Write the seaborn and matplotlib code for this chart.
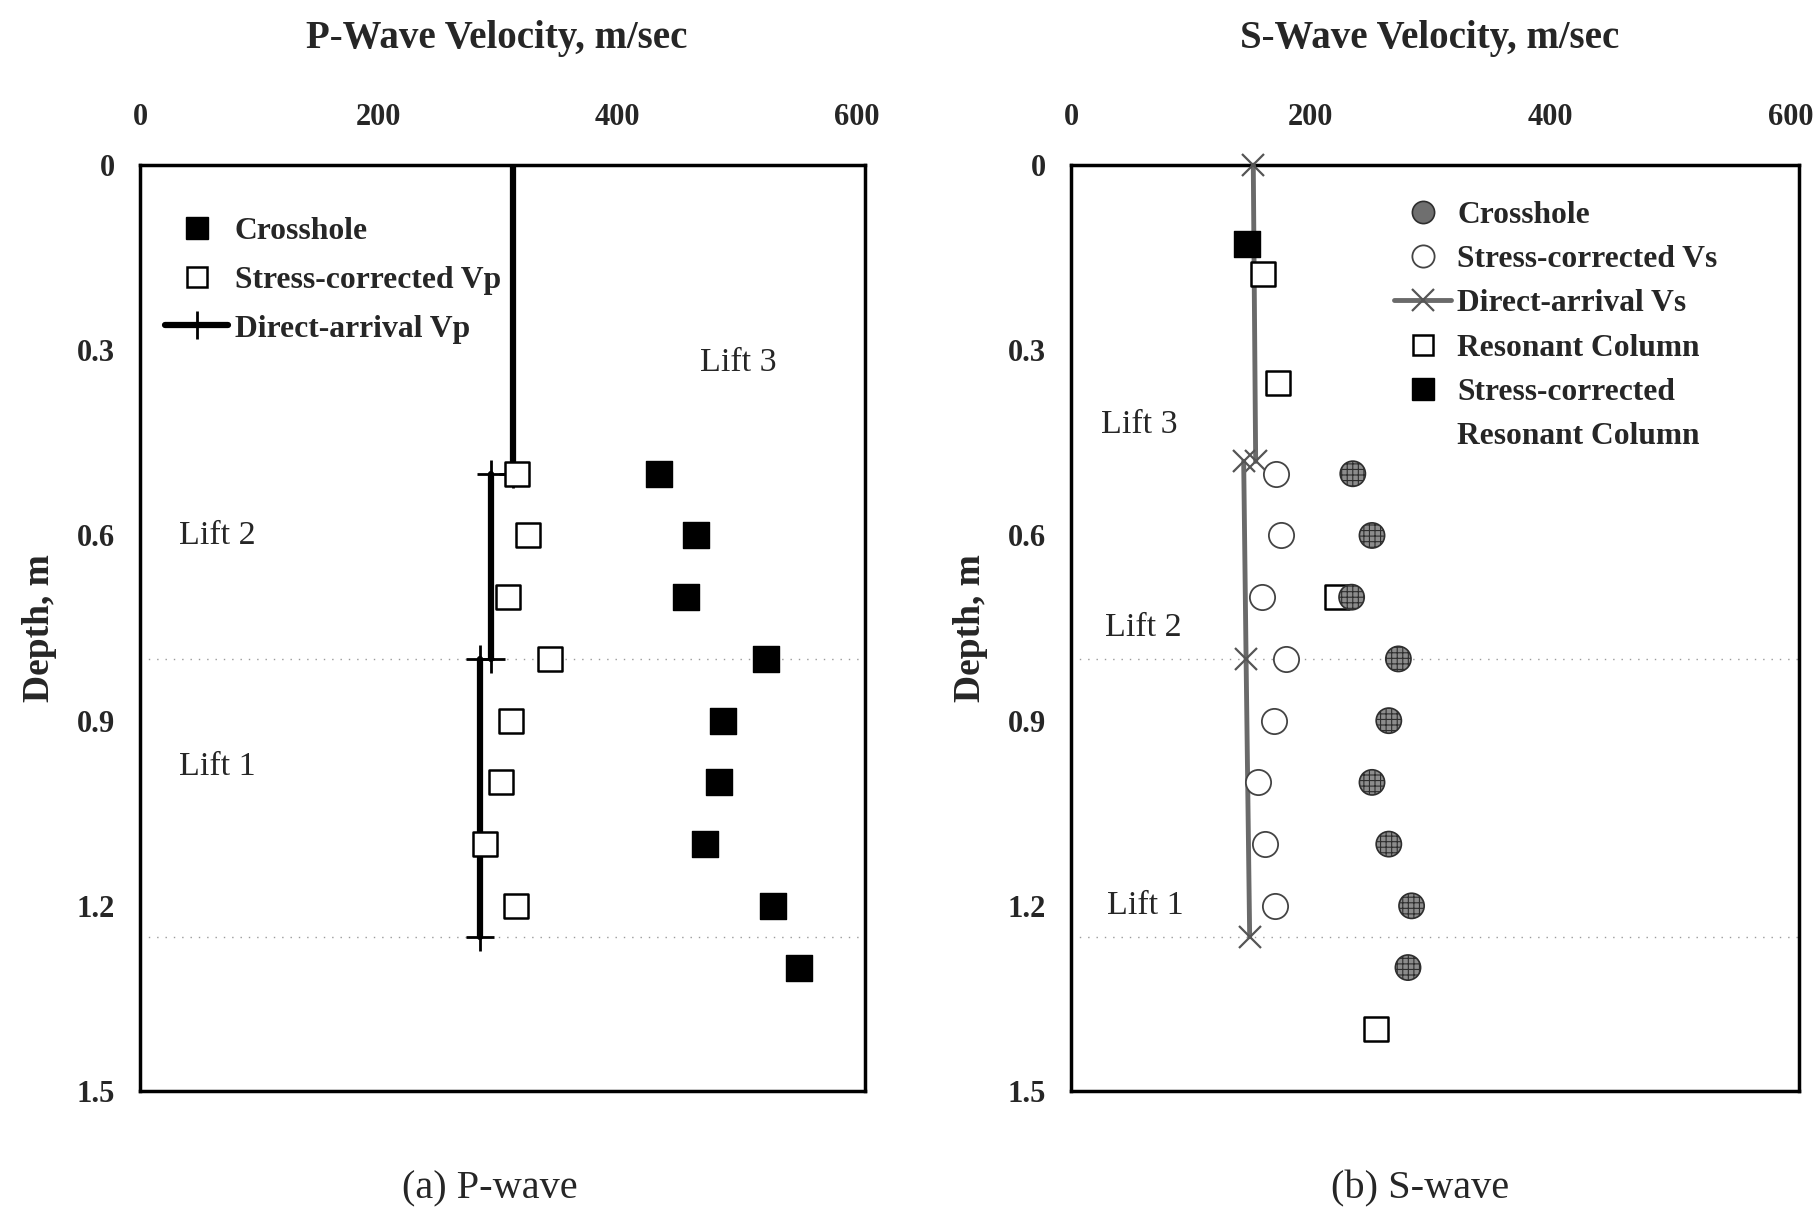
import numpy as np
import pandas as pd
import matplotlib
matplotlib.use("Agg")
import matplotlib.pyplot as plt
from matplotlib.lines import Line2D
import seaborn as sns

# ---------------- data ----------------
# P-wave panel
p_cross_depth = [0.5, 0.6, 0.7, 0.8, 0.9, 1.0, 1.1, 1.2, 1.3]
p_cross_vel = [435, 466, 457, 524, 488, 485, 473, 530, 552]
p_stress_depth = [0.5, 0.6, 0.7, 0.8, 0.9, 1.0, 1.1, 1.2]
p_stress_vel = [316, 325, 308, 343, 311, 302, 289, 315]
p_direct_seg1_depth = [0.0, 0.5]
p_direct_seg1_vel = [312, 312]
p_direct_seg2_depth = [0.5, 0.8]
p_direct_seg2_vel = [294, 294]
p_direct_seg3_depth = [0.8, 1.25]
p_direct_seg3_vel = [285, 285]

# S-wave panel
s_cross_depth = [0.5, 0.6, 0.7, 0.8, 0.9, 1.0, 1.1, 1.2, 1.3]
s_cross_vel = [235, 251, 234, 273, 265, 251, 265, 284, 281]
s_stress_depth = [0.5, 0.6, 0.7, 0.8, 0.9, 1.0, 1.1, 1.2]
s_stress_vel = [171, 175, 159, 179, 169, 156, 162, 170]
s_direct_seg1_depth = [0.0, 0.48]
s_direct_seg1_vel = [152, 154]
s_direct_seg2_depth = [0.48, 0.8, 1.25]
s_direct_seg2_vel = [144, 146, 149]
s_rc_depth = [0.177, 0.353, 0.7, 1.4]
s_rc_vel = [160, 173, 222, 254]
s_src_depth = [0.128]
s_src_vel = [147]

x_ticks = [0, 200, 400, 600]
y_ticks = [0, 0.3, 0.6, 0.9, 1.2, 1.5]
y_ticklabels = ["0", "0.3", "0.6", "0.9", "1.2", "1.5"]
lift_boundaries = [0.8, 1.25]

p_lift_labels = ["Lift 3", "Lift 2", "Lift 1"]
p_lift_x = [469, 33, 33]
p_lift_y = [0.32, 0.60, 0.975]
s_lift_labels = ["Lift 3", "Lift 2", "Lift 1"]
s_lift_x = [25, 28, 30]
s_lift_y = [0.42, 0.75, 1.2]

# ---------------- style ----------------
sns.set_theme(style="white")
plt.rcParams["font.family"] = ["Liberation Serif", "DejaVu Serif"]
plt.rcParams["axes.linewidth"] = 2.5
plt.rcParams["hatch.linewidth"] = 0.8

fig = plt.figure(figsize=(18.14, 12.14), dpi=100)
axL = fig.add_axes([0.0772, 0.1013, 0.3995, 0.7627])
axR = fig.add_axes([0.5904, 0.1013, 0.4013, 0.7627])

def style_axes(ax):
    ax.set_xlim(0, 607)
    ax.set_ylim(1.5, 0)
    ax.xaxis.tick_top()
    ax.set_xticks(x_ticks)
    ax.set_xticklabels([str(t) for t in x_ticks], fontsize=22, fontweight="bold")
    ax.set_yticks(y_ticks)
    ax.set_yticklabels(y_ticklabels, fontsize=22, fontweight="bold")
    ax.tick_params(axis="x", length=0, pad=24)
    ax.tick_params(axis="y", length=0, pad=18)
    ax.set_xlabel("")
    ax.set_ylabel("Depth, m", fontsize=27, fontweight="bold", labelpad=14)
    for s in ax.spines.values():
        s.set_color("black")
        s.set_linewidth(2.5)
    for yb in lift_boundaries:
        ax.axhline(yb, color="#9a9a9a", lw=1.0, ls=(0, (1, 5)), zorder=0)

# ---------------- P-wave panel ----------------
ax = axL
for dv, dd in [(p_direct_seg1_vel, p_direct_seg1_depth),
               (p_direct_seg2_vel, p_direct_seg2_depth),
               (p_direct_seg3_vel, p_direct_seg3_depth)]:
    sns.lineplot(x=dv, y=dd, sort=False, estimator=None, ax=ax, color="black",
                 lw=4.5, marker="+", markersize=20, mew=2, mec="black",
                 clip_on=True, zorder=3)
sns.scatterplot(x=p_stress_vel, y=p_stress_depth, ax=ax, marker="s", s=300,
                facecolor="white", edgecolor="black", linewidth=1.8, zorder=4)
sns.scatterplot(x=p_cross_vel, y=p_cross_depth, ax=ax, marker="s", s=330,
                color="black", edgecolor="black", linewidth=1, zorder=4)
style_axes(ax)
for t, x, y in zip(p_lift_labels, p_lift_x, p_lift_y):
    ax.text(x, y, t, fontsize=24.5, ha="left", va="center")

hL = [Line2D([], [], ls="none", marker="s", ms=16, mfc="black", mec="black"),
      Line2D([], [], ls="none", marker="s", ms=15, mfc="white", mec="black", mew=1.8),
      Line2D([], [], color="black", lw=4.5, marker="+", ms=20, mew=2)]
legL = ax.legend(hL, ["Crosshole", "Stress-corrected Vp", "Direct-arrival Vp"],
                 loc="upper left", bbox_to_anchor=(-0.005, 0.975), frameon=False,
                 prop={"family": "Liberation Serif", "weight": "bold", "size": 22.8},
                 handlelength=2.0, handletextpad=0.2, labelspacing=0.62)

# ---------------- S-wave panel ----------------
ax = axR
for dv, dd in [(s_direct_seg1_vel, s_direct_seg1_depth),
               (s_direct_seg2_vel, s_direct_seg2_depth)]:
    sns.lineplot(x=dv, y=dd, sort=False, estimator=None, ax=ax, color="#6a6a6a",
                 lw=3.5, marker="x", markersize=16, mew=1.6, mec="#555555",
                 clip_on=False, zorder=3)
sns.scatterplot(x=s_stress_vel, y=s_stress_depth, ax=ax, marker="o", s=330,
                facecolor="white", edgecolor="#444444", linewidth=1.3, zorder=4)
sns.scatterplot(x=s_cross_vel, y=s_cross_depth, ax=ax, marker="o", s=330,
                facecolor="#8c8c8c", edgecolor="#2e2e2e", linewidth=1.2,
                hatch="+++", zorder=5)
sns.scatterplot(x=s_rc_vel, y=s_rc_depth, ax=ax, marker="s", s=300,
                facecolor="white", edgecolor="black", linewidth=1.8, zorder=4)
sns.scatterplot(x=s_src_vel, y=s_src_depth, ax=ax, marker="s", s=330,
                color="black", edgecolor="black", linewidth=1, zorder=6)
style_axes(ax)
for t, x, y in zip(s_lift_labels, s_lift_x, s_lift_y):
    ax.text(x, y, t, fontsize=24.5, ha="left", va="center")

hR = [Line2D([], [], ls="none", marker="o", ms=16, mfc="#6f6f6f", mec="#2e2e2e", mew=1.2),
      Line2D([], [], ls="none", marker="o", ms=16, mfc="white", mec="#444444", mew=1.3),
      Line2D([], [], color="#6a6a6a", lw=3.5, marker="x", ms=16, mew=1.6, mec="#555555"),
      Line2D([], [], ls="none", marker="s", ms=15, mfc="white", mec="black", mew=1.8),
      Line2D([], [], ls="none", marker="s", ms=16, mfc="black", mec="black"),
      Line2D([], [], ls="none", marker="none")]
legR = ax.legend(hR, ["Crosshole", "Stress-corrected Vs", "Direct-arrival Vs",
                      "Resonant Column", "Stress-corrected", "Resonant Column"],
                 loc="upper left", bbox_to_anchor=(0.405, 0.992), frameon=False,
                 prop={"family": "Liberation Serif", "weight": "bold", "size": 22.7},
                 handlelength=1.8, handletextpad=0.2, labelspacing=0.48)

# ---------------- titles & captions ----------------
fig.text(0.274, 0.968, "P-Wave Velocity, m/sec", ha="center", va="center",
         fontsize=28, fontweight="bold")
fig.text(0.788, 0.968, "S-Wave Velocity, m/sec", ha="center", va="center",
         fontsize=28, fontweight="bold")
fig.text(0.270, 0.021, "(a) P-wave", ha="center", va="center", fontsize=29)
fig.text(0.783, 0.021, "(b) S-wave", ha="center", va="center", fontsize=29)

fig.savefig("out.png", dpi=100)
